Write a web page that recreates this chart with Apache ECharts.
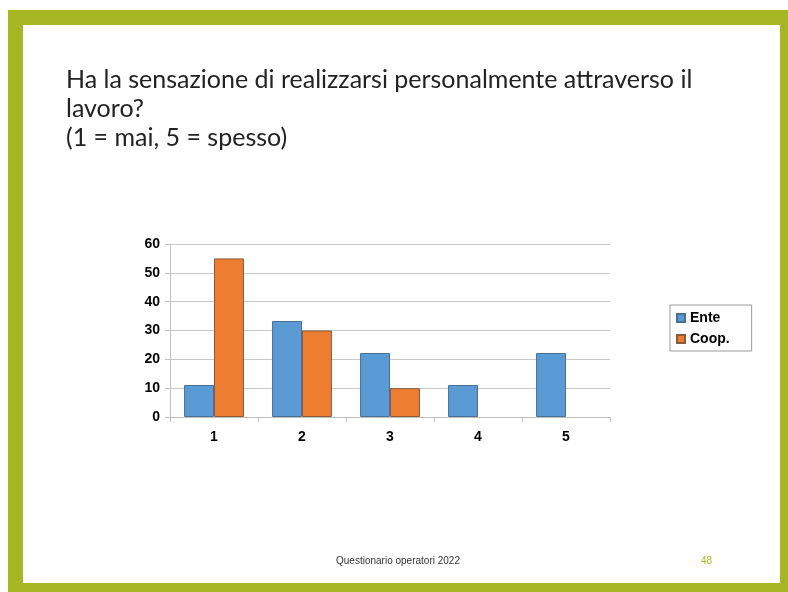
<!DOCTYPE html>
<html>
<head>
<meta charset="utf-8">
<script src="https://cdn.jsdelivr.net/npm/echarts@6/dist/echarts.min.js"></script>
<style>
html,body{margin:0;padding:0;background:#fff;}
#chart{width:788px;height:592px;}
</style>
</head>
<body>
<div id="chart"></div>
<script>
var categories = ['1', '2', '3', '4', '5'];
var enteValues = [11.1, 33.3, 22.2, 11.1, 22.2];
var coopValues = [55, 30, 10, 0, 0];
var yTicks = [0, 10, 20, 30, 40, 50, 60];
var titleLines = ['Ha la sensazione di realizzarsi personalmente attraverso il', 'lavoro?', '(1 = mai, 5 = spesso)'];
var footerText = 'Questionario operatori 2022';
var pageNumber = '48';

function toBarData(values) {
  return values.map(function (v) {
    return v === 0 ? {value: v, itemStyle: {borderWidth: 0}} : v;
  });
}

var chart = echarts.init(document.getElementById('chart'), null, {renderer: 'canvas'});
var option = {
  animation: false,
  graphic: [
    {type: 'rect', shape: {x: 8, y: 10, width: 780, height: 582}, style: {fill: '#a7b724'}, z: -10},
    {type: 'rect', shape: {x: 23, y: 25, width: 757, height: 558}, style: {fill: '#ffffff'}, z: -9},
    {type: 'text', left: 66, top: 65, style: {text: titleLines.join('\n'), font: '25px Lato', lineHeight: 29, fill: '#222222'}},
    {type: 'text', left: 336, top: 556, style: {text: footerText, font: '10px "Liberation Sans"', fill: '#333333'}},
    {type: 'text', left: 701, top: 556, style: {text: pageNumber, font: '10px "Liberation Sans"', fill: '#a7b724'}}
  ],
  grid: {left: 170, right: 178, top: 244, bottom: 175, containLabel: false},
  legend: {
    orient: 'vertical', left: 670, top: 305,
    data: ['Ente', 'Coop.'],
    icon: 'rect', itemWidth: 8, itemHeight: 8, itemGap: 7,
    borderColor: '#9a9a9a', borderWidth: 1, padding: [6, 22, 5, 6],
    textStyle: {fontFamily: 'Liberation Sans', fontWeight: 'bold', fontSize: 14, color: '#000'}
  },
  xAxis: {
    type: 'category', data: categories,
    axisLine: {lineStyle: {color: '#bfbfbf'}},
    axisTick: {show: true, length: 5, lineStyle: {color: '#bfbfbf'}},
    axisLabel: {fontFamily: 'Liberation Sans', fontWeight: 'bold', fontSize: 14, color: '#000', margin: 13}
  },
  yAxis: {
    type: 'value', min: 0, max: 60, interval: 10,
    axisLine: {show: true, lineStyle: {color: '#bfbfbf'}},
    axisTick: {show: true, length: 5, lineStyle: {color: '#bfbfbf'}},
    splitLine: {lineStyle: {color: '#c8c8c8'}},
    axisLabel: {fontFamily: 'Liberation Sans', fontWeight: 'bold', fontSize: 14, color: '#000', margin: 10,
      formatter: function (v) { return yTicks.indexOf(v) >= 0 ? String(v) : ''; }}
  },
  series: [
    {name: 'Ente', type: 'bar', data: toBarData(enteValues), barGap: '0%', barCategoryGap: '32%',
      itemStyle: {color: '#5b9bd5', borderColor: '#4a6f8f', borderWidth: 1}},
    {name: 'Coop.', type: 'bar', data: toBarData(coopValues), barGap: '0%', barCategoryGap: '32%',
      itemStyle: {color: '#ed7d31', borderColor: '#8a5a3a', borderWidth: 1}}
  ]
};
chart.setOption(option);
</script>
</body>
</html>
